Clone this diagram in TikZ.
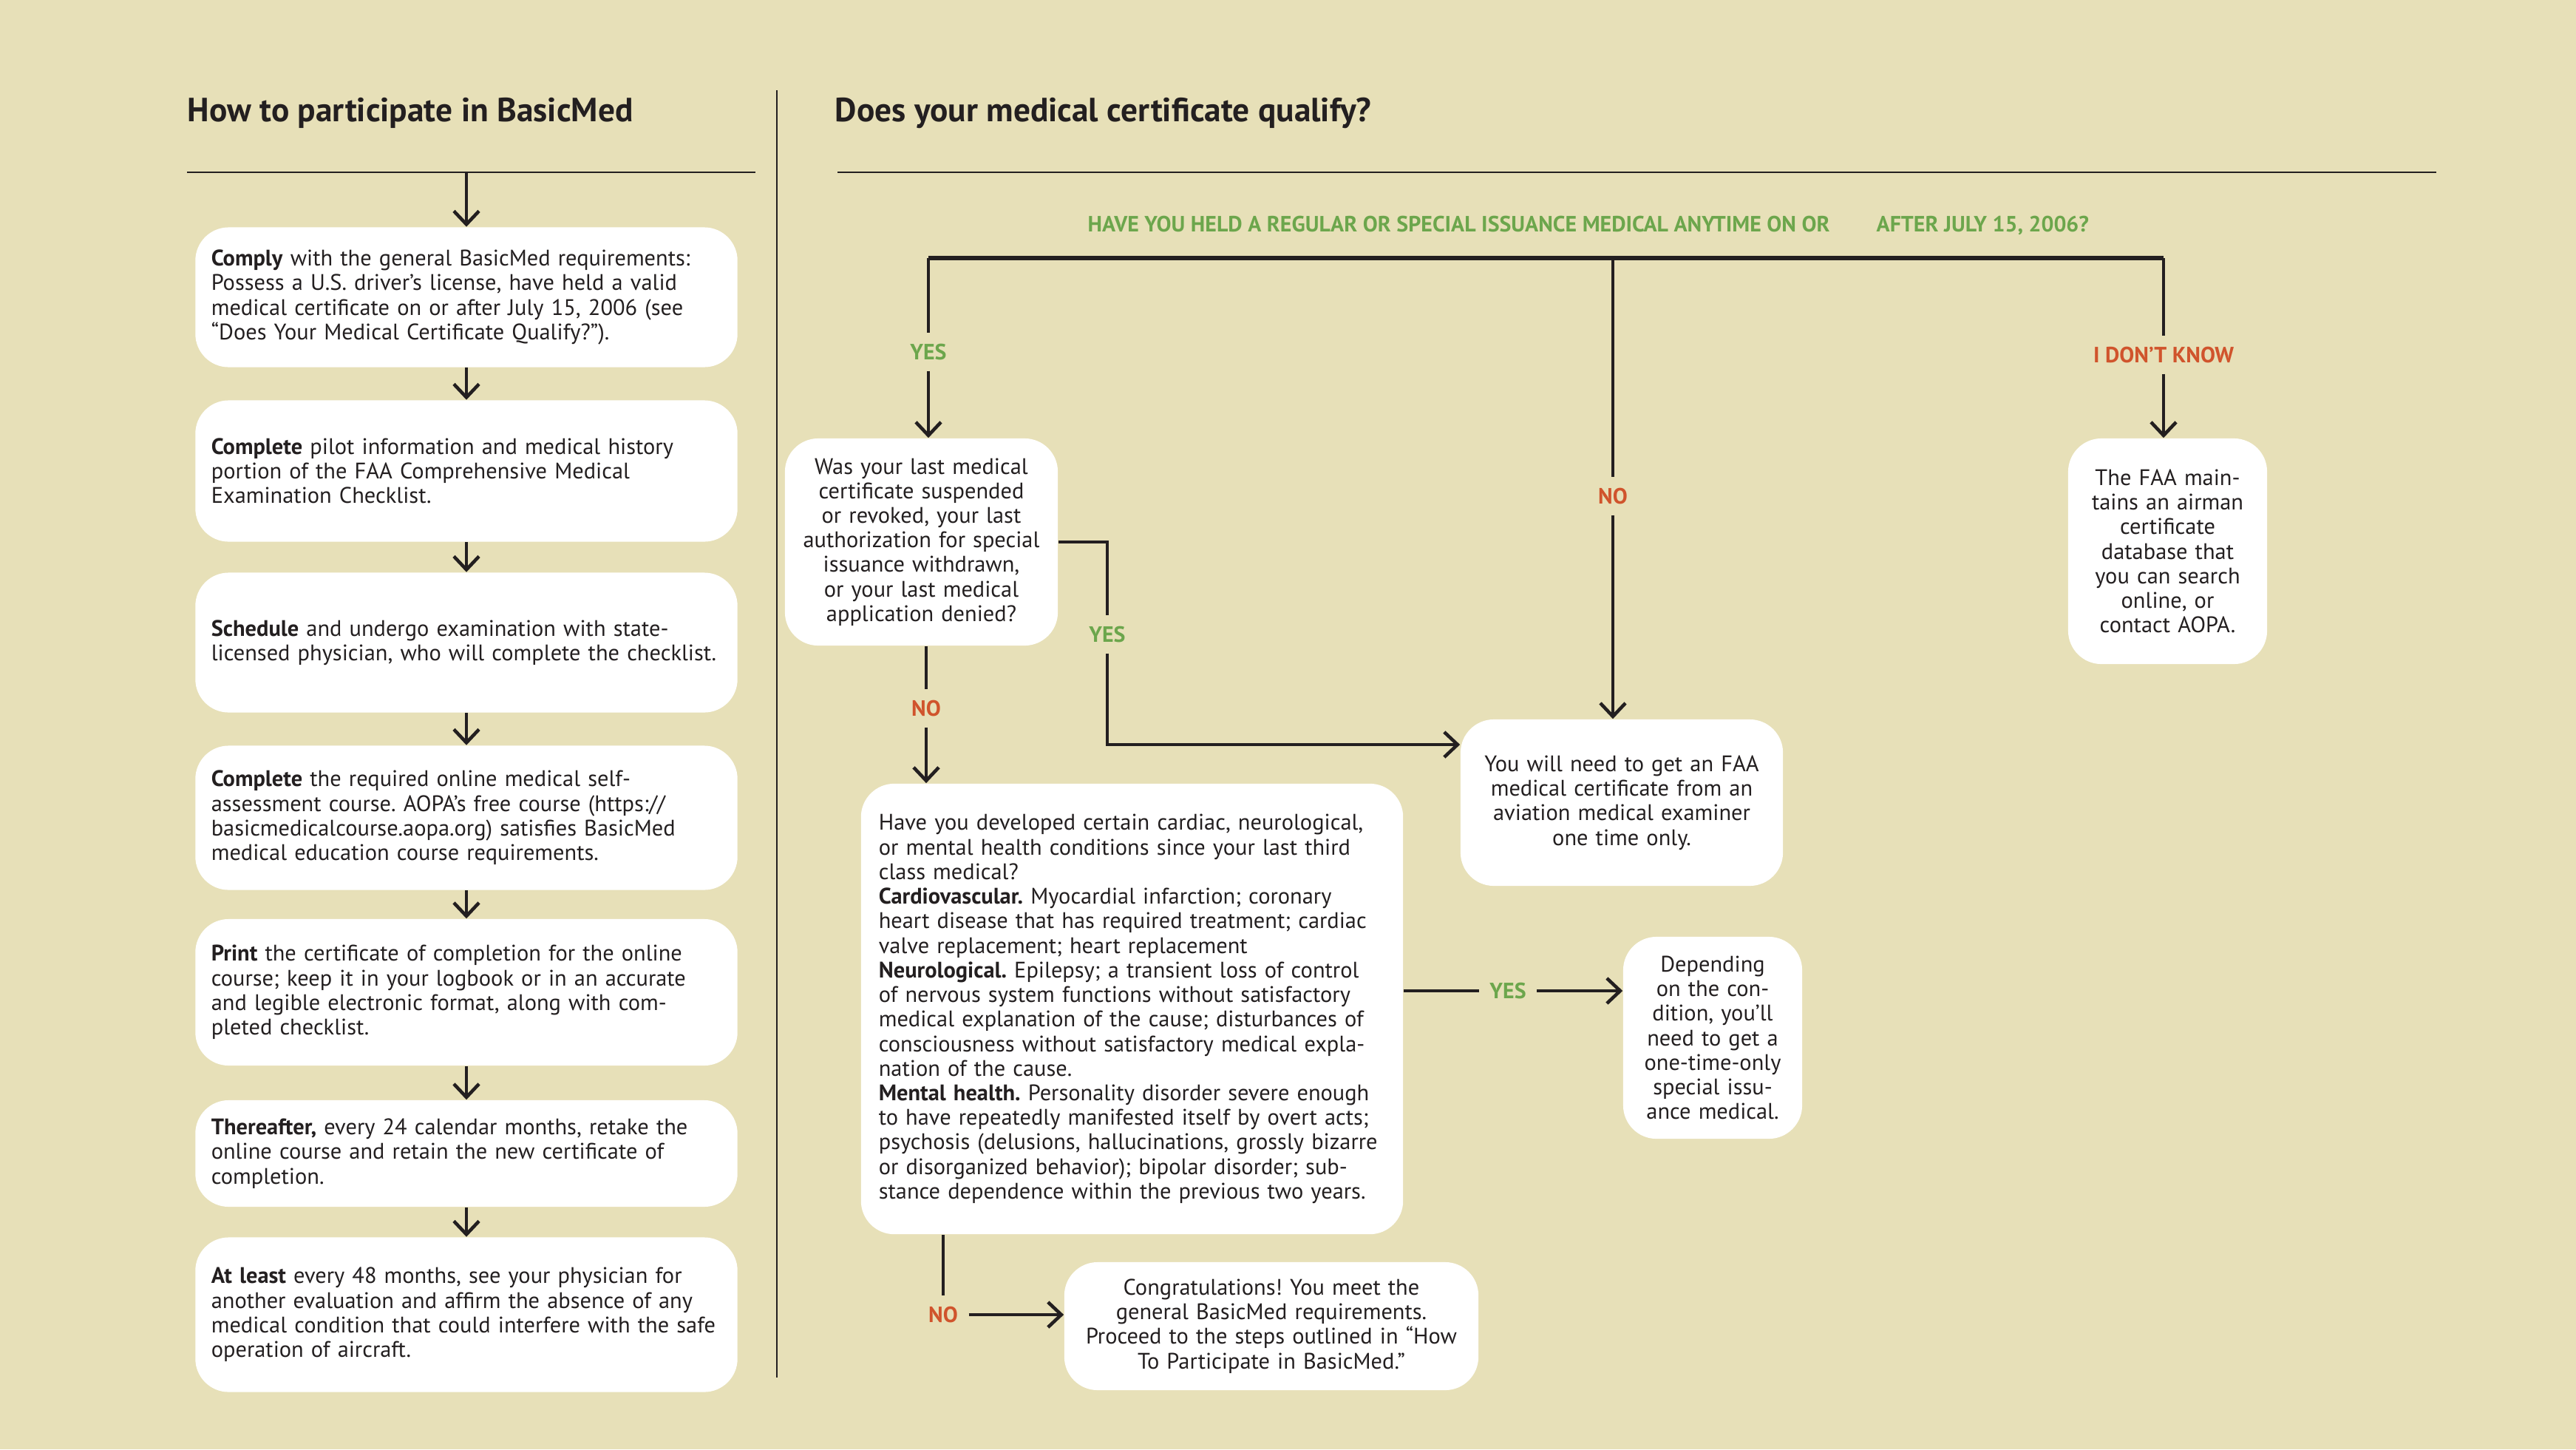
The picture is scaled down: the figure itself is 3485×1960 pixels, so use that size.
\documentclass[tikz,border=0pt]{standalone}
\usepackage{fontspec}
\setmainfont{PT Sans}
\usetikzlibrary{arrows.meta}

\definecolor{paper}{RGB}{231,224,184}
\definecolor{ink}{RGB}{35,31,32}
\definecolor{yesgreen}{RGB}{108,166,76}
\definecolor{nored}{RGB}{208,84,44}
\newcommand{\boxfont}{\fontsize{8.65}{9.45}\selectfont}
\newcommand{\capfont}{\fontsize{8.5}{10}\selectfont\bfseries}
\frenchspacing

\begin{document}
\begin{tikzpicture}[x=0.01cm, y=-0.01cm,
    every node/.style={text=ink},
    line/.style={draw=ink, line width=1.3pt},
    arr/.style={line, -{Straight Barb[length=1.8mm,width=3.4mm]}},
    rule/.style={draw=ink, line width=0.8pt},
    card/.style={fill=white, rounded corners=0.45cm, inner ysep=0pt, font=\boxfont},
    leftcard/.style={card, text width=6.9cm, inner xsep=0.215cm, align=left},
    midcard/.style={card, inner xsep=0.1cm, align=center},
    yes/.style={fill=paper, inner sep=4pt, font=\capfont, text=yesgreen},
    no/.style={yes, text=nored},
    heading/.style={anchor=west, inner xsep=0pt, font=\fontsize{12.9}{14}\selectfont\bfseries}]
    \useasboundingbox (0,0) rectangle (3485,1960);
    \fill[paper] (0,0) rectangle (3485,1960);

    % left column
    \node[heading] (howto) at (253,153) {How to participate in BasicMed};
    \draw[rule] (253,233) -- (1022,233);
    \coordinate (lrule) at (631,233);
    \draw[draw=ink, line width=0.6pt] (1051,122) -- (1051,1863);

    \node[leftcard, minimum height=1.89cm] (comply) at (631,402) {\textbf{Comply} with the general BasicMed requirements:\\
        Possess a U.S. driver’s license, have held a valid\\
        medical certificate on or after July 15, 2006 (see\\
        “Does Your Medical Certificate Qualify?”).};
    \node[leftcard, minimum height=1.91cm] (history) at (631,637) {\textbf{Complete} pilot information and medical history\\
        portion of the FAA Comprehensive Medical\\
        Examination Checklist.};
    \node[leftcard, minimum height=1.89cm] (exam) at (631,869) {\textbf{Schedule} and undergo examination with state-\\
        licensed physician, who will complete the checklist.};
    \node[leftcard, minimum height=1.95cm] (course) at (631,1106) {\textbf{Complete} the required online medical self-\\
        assessment course. AOPA’s free course (https://\\
        basicmedicalcourse.aopa.org) satisfies BasicMed\\
        medical education course requirements.};
    \node[leftcard, minimum height=1.98cm] (print) at (631,1342) {\textbf{Print} the certificate of completion for the online\\
        course; keep it in your logbook or in an accurate\\
        and legible electronic format, along with com-\\
        pleted checklist.};
    \node[leftcard, minimum height=1.44cm] (retake) at (631,1560) {\textbf{Thereafter,} every 24 calendar months, retake the\\
        online course and retain the new certificate of\\
        completion.};
    \node[leftcard, minimum height=2.09cm] (evaluate) at (631,1778) {\textbf{At least} every 48 months, see your physician for\\
        another evaluation and affirm the absence of any\\
        medical condition that could interfere with the safe\\
        operation of aircraft.};

    \draw[arr] (lrule) -- (comply);
    \draw[arr] (comply) -- (history);
    \draw[arr] (history) -- (exam);
    \draw[arr] (exam) -- (course);
    \draw[arr] (course) -- (print);
    \draw[arr] (print) -- (retake);
    \draw[arr] (retake) -- (evaluate);

    % right column
    \node[heading] (qualify) at (1129,153) {Does your medical certificate qualify?};
    \draw[rule] (1133,233) -- (3296,233);
    \node[anchor=west, inner xsep=0pt, font=\capfont, text=yesgreen] (held) at (1471,305)
        {HAVE YOU HELD A REGULAR OR SPECIAL ISSUANCE MEDICAL ANYTIME ON OR\hspace{0.63cm}AFTER JULY 15, 2006?};

    \coordinate (tl) at (1256,349);
    \coordinate (tm) at (2182,349);
    \coordinate (tr) at (2927,349);
    \draw[line, line width=1.7pt] (tl) -- (tr);

    \node[midcard, text width=3.49cm, minimum height=2.80cm] (suspended) at (1246.5,733) {Was your last medical\\
        certificate suspended\\ or revoked, your last\\ authorization for special\\
        issuance withdrawn,\\ or your last medical\\ application denied?};
    \node[midcard, text width=4.16cm, minimum height=2.25cm] (faa) at (2194,1085.5) {You will need to get an FAA\\
        medical certificate from an\\ aviation medical examiner\\ one time only.};
    \node[midcard, text width=2.49cm, minimum height=3.05cm] (database) at (2932.5,745.5) {The FAA main-\\
        tains an airman\\ certificate\\ database that\\ you can search\\ online, or\\ contact AOPA.};
    \node[card, text width=6.85cm, inner xsep=0.24cm, align=left, minimum height=6.09cm] (conditions) at (1531.5,1364.5)
        {Have you developed certain cardiac, neurological,\\
        or mental health conditions since your last third\\
        class medical?\\
        \textbf{Cardiovascular.} Myocardial infarction; coronary\\
        heart disease that has required treatment; cardiac\\
        valve replacement; heart replacement\\
        \textbf{Neurological.} Epilepsy; a transient loss of control\\
        of nervous system functions without satisfactory\\
        medical explanation of the cause; disturbances of\\
        consciousness without satisfactory medical expla-\\
        nation of the cause.\\
        \textbf{Mental health.} Personality disorder severe enough\\
        to have repeatedly manifested itself by overt acts;\\
        psychosis (delusions, hallucinations, grossly bizarre\\
        or disorganized behavior); bipolar disorder; sub-\\
        stance dependence within the previous two years.};
    \node[midcard, text width=2.22cm, minimum height=2.73cm] (special) at (2317,1403.5) {Depending\\
        on the con-\\ dition, you’ll\\ need to get a\\ one-time-only\\ special issu-\\ ance medical.};
    \node[midcard, text width=5.40cm, minimum height=1.73cm] (congrats) at (1720,1793.5) {Congratulations! You meet the\\
        general BasicMed requirements.\\ Proceed to the steps outlined in “How\\ To Participate in BasicMed.”};

    % answers
    \node[yes] (yes1) at (1256,476) {YES};
    \node[no] (no1) at (2182,671) {NO};
    \node[no] (dunno) at (2927,480) {I DON’T KNOW};
    \node[yes] (yes2) at (1498,858) {YES};
    \node[no] (no2) at (1253,958) {NO};
    \node[yes] (yes3) at (2040,1340) {YES};
    \node[no] (no3) at (1276,1778) {NO};
    \coordinate (yesbend) at (1498,1007);

    \draw[line] (tl) -- (yes1);
    \draw[arr] (yes1) -- (yes1 |- suspended.north);
    \draw[line] (tm) -- (no1);
    \draw[arr] (no1) -- (no1 |- faa.north);
    \draw[line] (tr) -- (dunno);
    \draw[arr] (dunno) -- (dunno |- database.north);

    \draw[line] (suspended.east) -| (yes2);
    \draw[arr] (yes2) |- (faa.west |- yesbend);
    \draw[line] (suspended.south -| no2) -- (no2);
    \draw[arr] (no2) -- (no2 |- conditions.north);

    \draw[line] (conditions.east |- yes3) -- (yes3);
    \draw[arr] (yes3) -- (yes3 -| special.west);
    \draw[line] (conditions.south -| no3) -- (no3);
    \draw[arr] (no3) -- (no3 -| congrats.west);
\end{tikzpicture}
\end{document}
